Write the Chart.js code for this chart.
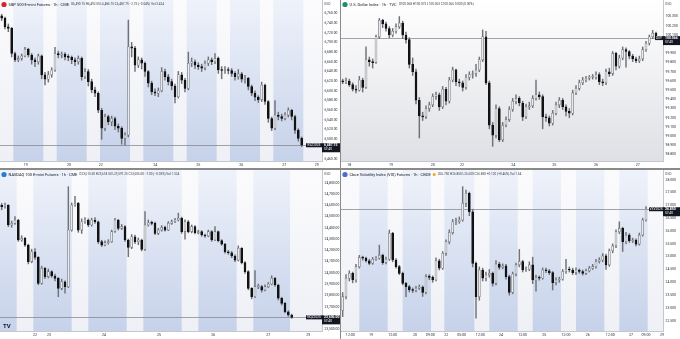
<!DOCTYPE html>
<html>
<head>
<meta charset="utf-8">
<script src="https://cdn.jsdelivr.net/npm/chart.js@4.4.0/dist/chart.umd.min.js"></script>
<style>
body{margin:0;background:#8a8a8a;width:680px;height:339px;overflow:hidden;position:relative}
canvas{position:absolute;display:block}
</style>
</head>
<body>
<canvas id="spx" width="340" height="168" style="left:0;top:0"></canvas>
<canvas id="dxy" width="339" height="168" style="left:341px;top:0"></canvas>
<canvas id="ndx" width="340" height="169" style="left:0;top:170px"></canvas>
<canvas id="vix" width="339" height="169" style="left:341px;top:170px"></canvas>
<script>
// S&P 500 E-mini, 1h candles (open = previous close)
const spxFirstOpen = 6755;
const spxClose = [6750,6732,6729,6677,6664,6667,6672,6686,6674,6664,6660,6672,6633,6624,6633,6643,6677,6674,6676,6670,6669,6664,6660,6667,6629,6640,6619,6602,6595,6560,6523,6547,6536,6543,6527,6523,6502,6509,6691,6688,6653,6664,6657,6640,6616,6598,6595,6600,6640,6629,6619,6610,6588,6633,6622,6605,6657,6660,6653,6650,6647,6657,6664,6660,6667,6643,6642,6644,6642,6636,6629,6635,6624,6626,6609,6595,6587,6582,6612,6578,6543,6523,6550,6547,6543,6550,6560,6547,6519,6502,6487.75];
const spxHigh = [6758,6752,6738,6731,6680,6672,6676,6690,6688,6677,6668,6676,6674,6638,6640,6648,6690,6682,6680,6679,6675,6672,6668,6672,6670,6646,6644,6624,6608,6598,6564,6552,6550,6548,6546,6532,6526,6514,6746,6700,6692,6670,6668,6660,6642,6620,6604,6606,6648,6645,6634,6624,6614,6640,6638,6626,6680,6668,6664,6658,6655,6662,6670,6668,6677,6670,6650,6650,6648,6646,6640,6644,6638,6632,6628,6612,6600,6590,6618,6614,6580,6546,6580,6556,6552,6555,6565,6562,6550,6522,6505];
const spxLow = [6745,6728,6722,6670,6660,6660,6663,6670,6670,6655,6650,6655,6625,6612,6618,6628,6640,6668,6668,6664,6662,6656,6652,6655,6622,6625,6610,6596,6588,6555,6500,6518,6530,6528,6520,6515,6490,6488,6505,6670,6640,6648,6645,6630,6608,6592,6590,6588,6598,6622,6612,6602,6575,6585,6615,6598,6602,6650,6646,6644,6640,6643,6652,6654,6656,6636,6625,6636,6635,6630,6622,6624,6618,6616,6602,6590,6580,6576,6578,6572,6535,6518,6520,6540,6538,6540,6546,6540,6512,6496,6485];
const spxTickPos = [7.2,20.2,29.7,46.1,59,71.9,84.8,94.5];
const spxTickLab = ['19','20','22','24','25','26','27','29'];
const spxYTicks = [6460,6480,6500,6520,6540,6560,6580,6600,6620,6640,6660,6680,6700,6720,6740,6760];
const spxSessions = [[3.5,12.5],[16.5,25.5],[29.5,38.5],[42.5,51.5],[55.5,64.5],[68.5,77.5],[81.5,90.5]];

// U.S. Dollar Index
const dxyFirstOpen = 99.60;
const dxyClose = [99.59,99.60,99.56,99.51,99.50,99.61,99.53,99.83,99.81,99.80,100.08,100.26,100.22,100.17,100.10,100.14,100.19,100.23,100.10,100.05,99.78,99.70,99.39,99.22,99.21,99.30,99.34,99.43,99.45,99.32,99.51,99.38,99.61,99.72,99.59,99.58,99.53,99.64,99.67,99.68,99.72,99.83,100.08,99.58,99.12,99.01,99.30,98.96,99.12,99.18,99.29,99.38,99.41,99.36,99.21,99.32,99.33,99.41,99.45,99.43,99.21,99.20,99.14,99.25,99.34,99.39,99.32,99.27,99.25,99.47,99.52,99.58,99.61,99.63,99.64,99.64,99.67,99.59,99.58,99.70,99.68,99.90,99.76,99.85,99.94,99.92,99.87,99.84,99.82,99.84,99.94,100.01,100.08,100.12,100.066];
const dxyHigh = [99.62,99.63,99.62,99.58,99.55,99.65,99.63,99.97,99.86,99.84,100.10,100.28,100.27,100.24,100.19,100.17,100.22,100.30,100.25,100.13,100.07,99.85,99.73,99.42,99.26,99.33,99.37,99.46,99.48,99.47,99.54,99.53,99.64,99.75,99.73,99.62,99.60,99.67,99.70,99.71,99.78,99.86,100.155,100.14,99.60,99.15,99.34,99.32,99.15,99.21,99.32,99.41,99.45,99.43,99.38,99.35,99.37,99.44,99.61,99.48,99.45,99.24,99.22,99.28,99.37,99.42,99.41,99.34,99.30,99.50,99.55,99.61,99.64,99.65,99.66,99.67,99.70,99.69,99.62,99.73,99.74,99.92,99.91,99.88,99.97,99.96,99.93,99.89,99.86,99.87,99.97,100.03,100.10,100.15,100.13];
const dxyLow = [99.57,99.57,99.54,99.49,99.47,99.49,99.48,99.52,99.76,99.74,99.79,100.06,100.18,100.14,100.07,100.08,100.12,100.17,100.06,100.01,99.74,99.66,99.35,98.98,99.17,99.19,99.27,99.32,99.40,99.28,99.30,99.34,99.36,99.59,99.55,99.54,99.49,99.51,99.61,99.63,99.65,99.70,99.81,99.56,99.08,98.89,98.98,98.94,98.94,99.10,99.16,99.27,99.35,99.33,99.17,99.19,99.29,99.31,99.39,99.40,99.08,99.16,99.11,99.12,99.23,99.31,99.29,99.22,99.20,99.23,99.45,99.50,99.56,99.59,99.61,99.62,99.62,99.56,99.55,99.56,99.65,99.66,99.72,99.74,99.83,99.75,99.84,99.81,99.80,99.80,99.82,99.92,99.99,100.06,100.05];
const dxyTickPos = [2,14.5,27,35.8,51.2,63.5,76,88.5];
const dxyTickLab = ['18','19','20','22','24','25','26','27'];
const dxyYTicks = [98.8,98.9,99.0,99.1,99.2,99.3,99.4,99.5,99.6,99.7,99.8,99.9,100.0,100.1,100.2,100.3];

// NASDAQ 100 E-mini
const ndxFirstOpen = 24600;
const ndxClose = [24587,24602,24425,24440,24469,24292,24307,24247,24100,24188,24138,23908,24041,23967,24011,23973,23952,23863,23922,23878,24380,24602,24617,24380,24454,24469,24425,24469,24454,24277,24247,24268,24277,24366,24469,24395,24410,24292,24227,24321,24277,24292,24209,24425,24445,24440,24351,24380,24404,24380,24440,24454,24469,24484,24366,24454,24366,24410,24357,24366,24336,24327,24366,24292,24366,24286,24256,24188,24179,24150,24114,24218,24091,24011,23863,23789,23878,23878,23848,23878,23902,23952,23893,23775,23730,23656,23627,23606];
const ndxHigh = [24615,24620,24605,24460,24500,24475,24330,24315,24255,24210,24215,24145,24060,24050,24035,24020,23990,23960,23945,23930,24765,24620,24680,24625,24480,24490,24480,24485,24490,24460,24290,24285,24295,24380,24485,24475,24430,24420,24300,24340,24335,24310,24300,24543,24470,24460,24450,24395,24420,24415,24455,24470,24485,24530,24495,24470,24465,24425,24420,24380,24375,24345,24380,24375,24410,24372,24295,24262,24200,24190,24160,24240,24225,24100,24020,23870,24020,23900,23890,23895,23915,23975,23960,23900,23785,23740,23665,23635];
const ndxLow = [24560,24575,24410,24405,24430,24280,24280,24235,24080,24090,24120,23895,23900,23950,23955,23960,23930,23789,23850,23820,23870,24370,24590,24360,24350,24440,24410,24415,24440,24260,24235,24240,24255,24270,24360,24380,24385,24280,24144,24215,24260,24250,24195,24200,24415,24425,24340,24340,24370,24370,24375,24430,24445,24460,24350,24300,24355,24355,24345,24345,24325,24315,24320,24280,24285,24275,24245,24175,24165,24135,24100,24105,24080,23995,23850,23770,23780,23860,23830,23840,23870,23895,23880,23760,23715,23645,23615,23597];
const ndxTickPos = [10,14.2,30.7,47.2,63.5,80,92];
const ndxTickLab = ['22','23','24','25','26','27','29'];
const ndxYTicks = [23500,23600,23700,23800,23900,24000,24100,24200,24300,24400,24500,24600,24700,24800];
const ndxSessions = [[-0.5,4.5],[9.5,21],[26,37.5],[42.5,54],[59,70.5],[75.5,86.5]];

// Cboe VIX futures
const vixFirstOpen = 22.9;
const vixClose = [23.44,24.16,24.35,24.09,24.61,24.97,24.94,24.84,24.74,24.90,24.94,25.06,24.77,24.90,25.91,24.87,24.61,24.35,23.96,23.83,23.70,23.68,23.77,23.81,23.60,24.22,24.19,24.09,24.84,24.55,25.13,25.58,25.94,26.36,26.36,26.43,27.08,27.47,26.75,24.74,23.44,24.48,24.16,24.29,24.35,23.96,24.71,24.58,24.64,24.22,23.60,24.32,24.68,24.81,24.48,24.51,24.68,24.09,24.19,24.16,24.48,24.45,24.38,23.99,24.09,24.12,24.42,24.51,24.48,24.38,24.48,24.42,24.35,24.45,24.55,24.61,24.81,24.87,25.03,24.68,25.23,25.42,25.97,26.10,25.58,25.84,25.62,25.65,25.49,25.84,26.43,26.85];
const vixHigh = [23.6,24.3,24.45,24.4,24.7,25.05,25.02,24.98,24.9,24.97,25.0,25.45,25.1,24.98,26.04,25.95,24.92,24.66,24.4,24.0,23.88,23.78,23.84,23.9,23.86,24.3,24.3,24.25,24.95,24.9,25.2,25.66,26.05,26.45,26.5,26.55,27.73,27.6,27.52,26.85,24.8,24.6,24.55,24.4,24.5,24.4,24.85,24.78,24.72,24.7,24.28,24.4,24.75,25.28,24.86,24.6,24.8,24.98,24.28,24.25,24.56,24.55,24.5,24.42,24.18,24.2,24.5,24.9,24.6,24.55,24.56,24.52,24.48,24.52,24.62,24.7,24.9,24.96,25.12,25.1,25.3,25.5,26.05,26.36,26.15,25.95,25.9,25.72,25.7,25.92,26.5,26.95];
const vixLow = [22.66,23.35,24.05,23.98,24.0,24.55,24.86,24.78,24.68,24.7,24.85,24.9,24.7,24.72,24.85,24.8,24.55,24.3,23.9,23.44,23.62,23.6,23.62,23.72,23.45,23.55,24.1,24.0,24.05,24.48,24.5,25.05,25.5,25.88,26.25,26.3,26.38,26.95,26.6,24.6,22.6,23.3,24.05,24.05,24.2,23.85,23.9,24.5,24.52,24.12,23.5,23.55,24.25,24.6,24.4,24.42,24.45,23.95,23.65,24.08,24.12,24.38,24.3,23.7,23.9,24.0,24.08,24.35,24.4,24.3,24.3,24.35,24.28,24.3,24.4,24.5,24.55,24.75,24.8,24.5,24.62,25.15,25.35,25.9,25.2,25.5,25.55,25.55,25.42,25.45,25.8,26.38];
const vixTickPos = [2.3,8.5,15,21.7,26.3,31.1,35.7,41.3,47.5,54,60.5,67,73.5,80.3,86.5,91,95.8];
const vixTickLab = ['12:00','19','12:00','20','09:00','22','05:00','12:00','24','12:00','25','12:00','26','12:00','27','09:00','29'];
const vixYTicks = [22.5,23,23.5,24,24.5,25,25.5,26,26.5,27,27.5,28];
const vixSessions = [[5,13.5],[18,26.5],[30.5,39.5],[44,52.5],[57,65.5],[70,78.5],[83,91.5]];

const FONT = 'Roboto, "Liberation Sans", sans-serif';
const fmt = dec => v => Number(v).toLocaleString('en-US', {minimumFractionDigits: dec, maximumFractionDigits: dec});

function candleChart(id, d) {
  const open = d.close.map((c, i) => i ? d.close[i - 1] : d.firstOpen);
  const up = d.close.map((c, i) => c >= open[i]);
  const last = d.close[d.close.length - 1];
  const canvas = document.getElementById(id);
  const axisW = canvas.width - 322;

  const panel = {
    id: 'panel',
    beforeDraw(chart) {
      const {ctx, chartArea: a, width, height} = chart;
      const x = chart.scales.x;
      ctx.save();
      ctx.fillStyle = '#ffffff';
      ctx.fillRect(0, 0, width, height);
      let g = ctx.createLinearGradient(0, a.top, 0, a.bottom);
      if (d.sessions) {
        g.addColorStop(0, '#fbfbfd');
        g.addColorStop(1, '#eef0f5');
      } else {
        g.addColorStop(0, '#ffffff');
        g.addColorStop(1, '#dfe0e5');
      }
      ctx.fillStyle = g;
      ctx.fillRect(a.left, a.top, a.right - a.left, a.bottom - a.top);
      if (d.sessions) {
        g = ctx.createLinearGradient(0, a.top, 0, a.bottom);
        g.addColorStop(0, '#eef2fa');
        g.addColorStop(1, '#c6d2ea');
        ctx.fillStyle = g;
        d.sessions.forEach(([s, e]) => {
          const x0 = Math.max(a.left, x.getPixelForValue(s));
          const x1 = Math.min(a.right, x.getPixelForValue(e));
          ctx.fillRect(x0, a.top, x1 - x0, a.bottom - a.top);
        });
      }
      ctx.restore();
    },
    beforeDatasetsDraw(chart) {
      const {ctx, chartArea: a} = chart;
      const y = Math.round(chart.scales.y.getPixelForValue(last)) + 0.5;
      ctx.save();
      ctx.strokeStyle = '#7c7f88';
      ctx.lineWidth = 0.7;
      ctx.beginPath();
      ctx.moveTo(a.left, y);
      ctx.lineTo(a.right, y);
      ctx.stroke();
      ctx.restore();
    },
    afterDraw(chart) {
      const {ctx, chartArea: a, width} = chart;
      const y = chart.scales.y.getPixelForValue(last);
      ctx.save();
      // price tags
      ctx.fillStyle = '#131722';
      ctx.fillRect(a.right - d.tagW, y - 2, d.tagW, 4);
      ctx.fillRect(a.right, y - 2, width - a.right, 9);
      ctx.fillStyle = '#ffffff';
      ctx.textBaseline = 'middle';
      ctx.font = '3.2px ' + FONT;
      ctx.textAlign = 'center';
      ctx.fillText(d.sym, a.right - d.tagW / 2, y);
      ctx.textAlign = 'left';
      ctx.font = 'bold 3.4px ' + FONT;
      ctx.fillText(d.fmt(last), a.right + 2, y);
      ctx.font = '3.2px ' + FONT;
      ctx.fillText('57:40', a.right + 2, y + 4.3);
      // currency label
      ctx.fillStyle = '#555';
      ctx.font = '3.4px ' + FONT;
      ctx.fillText('USD', a.right + 2, 4.5);
      // title row
      ctx.fillStyle = d.iconColor;
      ctx.beginPath();
      ctx.arc(4, 4.5, 2.6, 0, Math.PI * 2);
      ctx.fill();
      ctx.fillStyle = '#131722';
      ctx.font = '4px ' + FONT;
      ctx.fillText(d.title, 8.5, 4.6);
      let tx = 8.5 + ctx.measureText(d.title).width + 2;
      if (d.dot) {
        ctx.fillStyle = '#f5a623';
        ctx.beginPath();
        ctx.arc(tx + 1.5, 4.5, 1.5, 0, Math.PI * 2);
        ctx.fill();
        tx += 5;
      }
      ctx.fillStyle = '#3a3d45';
      ctx.font = '3.1px ' + FONT;
      ctx.fillText(d.ohlc, tx, 4.6);
      if (d.logo) {
        ctx.fillStyle = '#131722';
        ctx.font = 'bold 6px ' + FONT;
        ctx.fillText('TV', 3, a.bottom - 5);
      }
      ctx.restore();
    }
  };

  return new Chart(canvas, {
    type: 'bar',
    data: {
      datasets: [
        {
          data: d.close.map((c, i) => ({x: i, y: [open[i], c]})),
          backgroundColor: up.map(u => u ? '#e9eaed' : '#121212'),
          borderColor: up.map(u => u ? '#6f7278' : '#121212'),
          borderWidth: 0.6,
          borderSkipped: false,
          barThickness: 2,
          minBarLength: 1,
          grouped: false,
          order: 1
        },
        {
          data: d.close.map((c, i) => ({x: i, y: [d.low[i], d.high[i]]})),
          backgroundColor: '#6f7278',
          barThickness: 0.8,
          grouped: false,
          order: 2
        }
      ]
    },
    options: {
      responsive: false,
      animation: false,
      devicePixelRatio: 1,
      layout: {padding: 0},
      plugins: {legend: {display: false}, tooltip: {enabled: false}},
      scales: {
        x: {
          type: 'linear',
          offset: false,
          min: -0.5,
          max: 96.1,
          grid: {display: false, drawTicks: false},
          border: {color: '#c4c7ce'},
          afterBuildTicks: s => { s.ticks = d.tickPos.map(v => ({value: v})); },
          afterFit: s => { s.height = canvas.height - 161; s.paddingLeft = 0; s.paddingRight = 0; },
          ticks: {
            autoSkip: false,
            maxRotation: 0,
            padding: 1.5,
            color: '#2a2e39',
            font: {size: 3.6, family: FONT},
            callback: (v, i) => d.tickLab[i]
          }
        },
        y: {
          position: 'right',
          min: d.yMin,
          max: d.yMax,
          grid: {display: false, drawTicks: false},
          border: {color: '#c4c7ce'},
          afterBuildTicks: s => { s.ticks = d.yTicks.map(v => ({value: v})); },
          afterFit: s => { s.width = axisW; s.paddingTop = 0; s.paddingBottom = 0; },
          ticks: {
            padding: 2.5,
            color: '#2a2e39',
            font: {size: 3.4, family: FONT},
            callback: v => d.fmt(v)
          }
        }
      }
    },
    plugins: [panel]
  });
}

candleChart('spx', {
  firstOpen: spxFirstOpen, close: spxClose, high: spxHigh, low: spxLow,
  tickPos: spxTickPos, tickLab: spxTickLab, yTicks: spxYTicks, sessions: spxSessions,
  yMin: 6455.3, yMax: 6787.4, fmt: fmt(2), sym: 'ESZ2025', tagW: 16,
  iconColor: '#d6262b',
  title: 'S&P 500 E-mini Futures · 1h · CME',
  ohlc: 'O6,490.75 H6,492.50 L6,486.75 C6,487.75 −2.75 (−0.04%) Vol 3.424'
});
candleChart('dxy', {
  firstOpen: dxyFirstOpen, close: dxyClose, high: dxyHigh, low: dxyLow,
  tickPos: dxyTickPos, tickLab: dxyTickLab, yTicks: dxyYTicks, sessions: null,
  yMin: 98.73, yMax: 100.48, fmt: fmt(3), sym: 'DXY', tagW: 8,
  iconColor: '#1f8f6a',
  title: 'U.S. Dollar Index · 1h · TVC',
  ohlc: 'O100.068 H100.075 L100.063 C100.066 0.000 (0.00%)'
});
candleChart('ndx', {
  firstOpen: ndxFirstOpen, close: ndxClose, high: ndxHigh, low: ndxLow,
  tickPos: ndxTickPos, tickLab: ndxTickLab, yTicks: ndxYTicks, sessions: ndxSessions,
  yMin: 23485, yMax: 24912.6, fmt: fmt(2), sym: 'NQZ2025', tagW: 16, logo: true,
  iconColor: '#2a7bd4',
  title: 'NASDAQ 100 E-mini Futures · 1h · CME',
  ohlc: 'O23,615.50 H23,618.50 L23,597.25 C23,606.00 −7.00 (−0.03%) Vol 1.324'
});
candleChart('vix', {
  firstOpen: vixFirstOpen, close: vixClose, high: vixHigh, low: vixLow,
  tickPos: vixTickPos, tickLab: vixTickLab, yTicks: vixYTicks, sessions: vixSessions,
  yMin: 22.10, yMax: 28.38, fmt: fmt(3), sym: 'VXV2025', tagW: 14, dot: true,
  iconColor: '#4a6fd1',
  title: 'Cboe Volatility Index (VIX) Futures · 1h · CBOE',
  ohlc: 'O26.750 H26.850 L26.600 C26.850 +0.120 (+0.46%) Vol 1.54'
});
</script>
</body>
</html>
